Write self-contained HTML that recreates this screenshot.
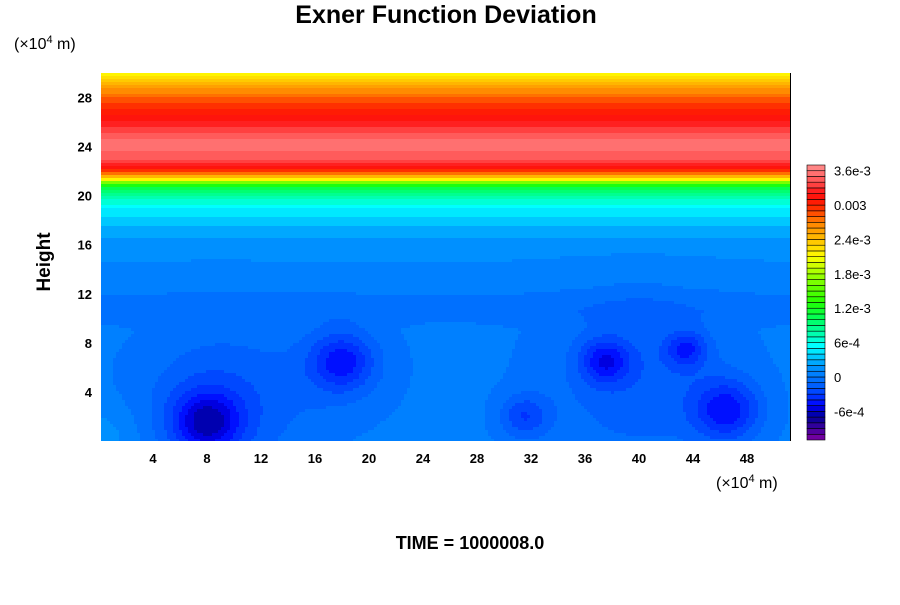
<!DOCTYPE html>
<html><head><meta charset="utf-8">
<style>
body{margin:0;background:#fff;width:900px;height:600px;overflow:hidden;font-family:"Liberation Sans",sans-serif}
svg text{font-family:"Liberation Sans",sans-serif;font-weight:bold}
</style></head>
<body>
<svg id="chart" width="900" height="600">
<text x="446" y="23" font-size="25" text-anchor="middle">Exner Function Deviation</text>
<text x="14" y="49" font-size="16" style="font-weight:normal">(×10<tspan font-size="11" dy="-6">4</tspan><tspan dy="6"> m)</tspan></text>
<text x="716" y="488" font-size="16" style="font-weight:normal">(×10<tspan font-size="11" dy="-6">4</tspan><tspan dy="6"> m)</tspan></text>
<text transform="translate(50,262) rotate(-90)" font-size="19" text-anchor="middle">Height</text>
<text x="470" y="549" font-size="18" text-anchor="middle">TIME = 1000008.0</text>
<g id="field"></g>
<line x1="790.5" y1="73" x2="790.5" y2="441" stroke="#000"/>
<g id="xt"></g>
<g id="yt"></g>
<g id="cb"></g>
</svg>
<script>
const xTicks=[4,8,12,16,20,24,28,32,36,40,44,48];
const yTicks=[4,8,12,16,20,24,28];
const cbLabels=["3.6e-3","0.003","2.4e-3","1.8e-3","1.2e-3","6e-4","0","-6e-4"];
const cbLabelValues=[3.6e-3,3.0e-3,2.4e-3,1.8e-3,1.2e-3,6e-4,0,-6e-4];
// background vertical profile (height in 1e4 m, value)
const profileZ=[0,9,10.5,11.5,12.5,14,16,17,18,19,20,20.8,21.3,21.7,22.3,23,24,24.5,25.5,26.3,27,28,29,30];
const profileV=[0.03e-3,0.03e-3,-0.03e-3,-0.02e-3,0.05e-3,0.08e-3,0.15e-3,0.25e-3,0.35e-3,0.5e-3,0.8e-3,1.2e-3,2.1e-3,2.7e-3,3.15e-3,3.4e-3,3.55e-3,3.5e-3,3.35e-3,3.15e-3,3.0e-3,2.8e-3,2.5e-3,2.1e-3];
// anomaly cells: centres, radii, amplitudes
const blobX=[8,9,18,18,31.5,37.5,43.5,46.5,40,0];
const blobZ=[1.5,3,6.5,6,2,6.5,7.5,2.5,5,0];
const blobR=[2.5,6,2.2,4,1.8,1.8,1.5,2.5,7,3];
const blobA=[-0.5e-3,-0.25e-3,-0.35e-3,-0.15e-3,-0.3e-3,-0.4e-3,-0.35e-3,-0.45e-3,-0.2e-3,0.15e-3];
const levelMin=-1.1e-3, levelStep=1e-4, levelCount=48;
const anchorV=[-1.05e-3,-0.75e-3,-0.65e-3,-0.55e-3,-0.45e-3,-0.35e-3,-0.25e-3,-0.15e-3,-0.05e-3,0.05e-3,0.15e-3,0.25e-3,0.35e-3,0.45e-3,0.55e-3,0.7e-3,1.0e-3,1.3e-3,1.8e-3,2.1e-3,2.4e-3,2.7e-3,3.0e-3,3.2e-3,3.4e-3,3.7e-3];
const anchorC=[[112,0,160],[16,0,154],[0,0,176],[0,0,224],[0,16,255],[0,48,255],[0,72,255],[0,96,255],[0,112,255],[0,128,255],[0,144,255],[0,168,255],[0,200,255],[0,232,255],[0,255,255],[0,255,192],[0,255,96],[32,255,0],[160,255,0],[255,255,0],[255,192,0],[255,128,0],[255,32,0],[255,16,16],[255,80,80],[255,144,144]];
(function(){
const X0=99,XS=13.5,Y0=441,YS=12.27;
const xs=v=>X0+v*XS, ys=v=>Y0-v*YS;
function cmap(v){
  if(v<=anchorV[0])return anchorC[0];
  for(let i=1;i<anchorV.length;i++){if(v<=anchorV[i]){const t=(v-anchorV[i-1])/(anchorV[i]-anchorV[i-1]);return anchorC[i].map((c,k)=>Math.round(anchorC[i-1][k]+t*(c-anchorC[i-1][k])));}}
  return anchorC[anchorC.length-1];
}
function levelColor(i){const c=cmap(levelMin+(i+0.5)*levelStep);return `rgb(${c[0]},${c[1]},${c[2]})`;}
function profile(z){for(let i=1;i<profileZ.length;i++){if(z<=profileZ[i]){const t=(z-profileZ[i-1])/(profileZ[i]-profileZ[i-1]);return profileV[i-1]+t*(profileV[i]-profileV[i-1]);}}return profileV[profileV.length-1];}
function field(x,z){let v=profile(z);for(let i=0;i<blobX.length;i++){const d2=((x-blobX[i])**2+(z-blobZ[i])**2)/(blobR[i]**2);v+=blobA[i]*Math.exp(-d2);}return v;}
const NS="http://www.w3.org/2000/svg";
const g=document.getElementById('field');
const cell=3,pL=101,pR=790,pT=73,pB=441;
for(let py=pT;py<pB;py+=cell){
  const z=(Y0-(py+cell/2))/YS;
  let runStart=pL,runLev=null;
  const flush=(end)=>{const r=document.createElementNS(NS,'rect');
    r.setAttribute('x',runStart);r.setAttribute('y',py);r.setAttribute('width',end-runStart);r.setAttribute('height',Math.min(cell,pB-py));
    r.setAttribute('fill',levelColor(runLev));
    
    
    g.appendChild(r);};
  for(let px=pL;px<pR;px+=cell){
    const x=(px+cell/2-X0)/XS;
    let l=Math.floor((field(x,z)-levelMin)/levelStep);l=Math.max(0,Math.min(levelCount-1,l));
    if(runLev===null){runLev=l;runStart=px;}
    else if(l!==runLev){flush(px);runLev=l;runStart=px;}
  }
  flush(pR);
}
const xt=document.getElementById('xt');
xTicks.forEach(t=>{const e=document.createElementNS(NS,'text');e.setAttribute('x',xs(t));e.setAttribute('y',463);e.setAttribute('font-size',13);e.setAttribute('text-anchor','middle');e.textContent=t;


xt.appendChild(e);});
const yt=document.getElementById('yt');
yTicks.forEach(t=>{const e=document.createElementNS(NS,'text');e.setAttribute('x',92);e.setAttribute('y',ys(t)+5);e.setAttribute('font-size',13);e.setAttribute('text-anchor','end');e.textContent=t;


yt.appendChild(e);});
const cb=document.getElementById('cb');
const cbTop=165,cbBot=440,cbH=(cbBot-cbTop)/levelCount;
const cy=v=>cbBot-(v-levelMin)/levelStep*cbH;
for(let i=0;i<levelCount;i++){const r=document.createElementNS(NS,'rect');r.setAttribute('x',807);r.setAttribute('y',cbBot-(i+1)*cbH);r.setAttribute('width',18);r.setAttribute('height',cbH);r.setAttribute('fill',levelColor(i));r.setAttribute('stroke','#000');r.setAttribute('stroke-width',0.6);


cb.appendChild(r);}
cbLabels.forEach((s,i)=>{const e=document.createElementNS(NS,'text');e.setAttribute('x',834);e.setAttribute('y',cy(cbLabelValues[i])+5);e.setAttribute('font-size',13);e.setAttribute('style','font-weight:normal');e.textContent=s;


cb.appendChild(e);});
})();
</script>
</body></html>
